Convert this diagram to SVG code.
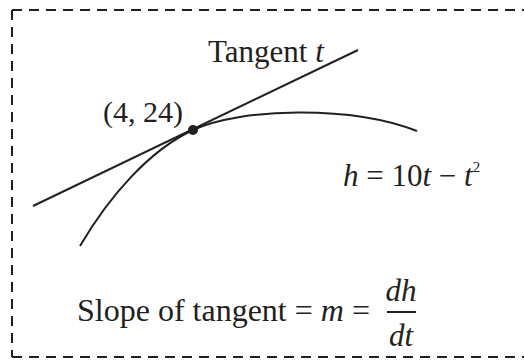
<svg xmlns="http://www.w3.org/2000/svg" width="524" height="363" viewBox="0 0 524 363">
<style>
.t{font-family:"Liberation Serif","Times New Roman",serif;fill:#231f20}
.i{font-style:italic}
.ln{fill:none;stroke:#231f20;stroke-width:2}
.frame{fill:none;stroke:#231f20;stroke-width:2;stroke-dasharray:10 7}
</style>
<rect width="524" height="363" fill="#fff"/>
<g id="frame">
<line class="frame" x1="12" y1="10" x2="524" y2="10"/>
<line class="frame" x1="12" y1="10" x2="12" y2="357"/>
<line class="frame" x1="12" y1="357" x2="524" y2="357"/>
</g>
<g id="connectors">
<path id="tangent" class="ln" d="M33 206 L358 50"/>
<path id="curve" class="ln" d="M80 246 C110 195 150 150 193 130 C240 108 350 105 417 131"/>
</g>
<g id="point"><circle cx="193" cy="130" r="5" fill="#231f20"/></g>
<g id="label-tangent"><text class="t" x="208" y="62" font-size="31">Tangent <tspan class="i">t</tspan></text></g>
<g id="label-point"><text class="t" x="103" y="122" font-size="30">(4, 24)</text></g>
<g id="label-curve"><text class="t" x="343" y="186" font-size="31"><tspan class="i">h</tspan> = 10<tspan class="i">t</tspan> − <tspan class="i">t</tspan><tspan font-size="15" dy="-14">2</tspan></text></g>
<g id="label-slope">
<text class="t" x="77" y="321" font-size="32">Slope of tangent = <tspan class="i">m</tspan> =</text>
<text class="t i" x="401" y="301" font-size="31" text-anchor="middle">dh</text>
<path class="ln" d="M387 312 H416"/>
<text class="t i" x="401" y="346" font-size="31" text-anchor="middle">dt</text>
</g>
</svg>
